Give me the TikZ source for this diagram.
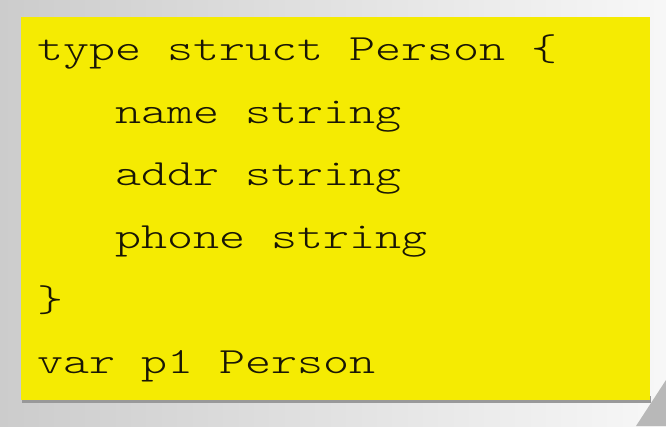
\documentclass[tikz,border=0pt]{standalone}
\usepackage{fontspec}
\newfontfamily\codefont{lmmonolt10-regular.otf}[FakeStretch=1.34]
\definecolor{codeyellow}{RGB}{245,235,2}
\definecolor{codetext}{RGB}{25,22,5}
\tikzset{codeline/.style={anchor=base west,inner sep=0pt,text=codetext,
    font=\codefont\fontsize{37}{37}\selectfont}}

\begin{document}
\begin{tikzpicture}[x=1pt,y=1pt]
		\useasboundingbox (0,0) rectangle (666,426);
		\shade [left color=black!20,right color=black!3](0,0)rectangle(666,426);
		\fill [black!28](636,0)--(666,46)--(666,0)--cycle;
		\fill [black!40](22,23.5)rectangle(650.5,30);
		\fill [codeyellow](21,26)rectangle(650,409);
		\node [codeline] (ln1) at (37,365) {type struct Person \{};
		\node [codeline] (ln2) at (115,302.5) {name string};
		\node [codeline] (ln3) at (115,240) {addr string};
		\node [codeline] (ln4) at (115,177.5) {phone string};
		\node [codeline] (ln5) at (37,115) {\}};
		\node [codeline] (ln6) at (37,52.5) {var p1 Person};
		\end{tikzpicture}
\end{document}
